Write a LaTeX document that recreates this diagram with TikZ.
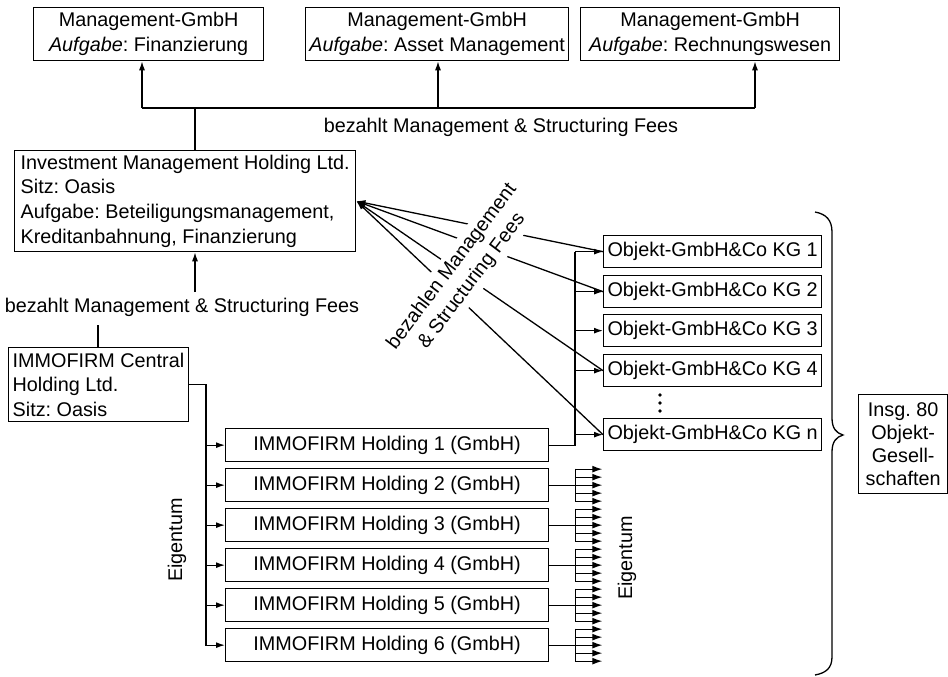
\documentclass[tikz,border=0pt]{standalone}
\usepackage{fontspec}
\setmainfont{Liberation Sans}
\usetikzlibrary{arrows.meta}
\frenchspacing
\begin{document}
\frenchspacing
\begin{tikzpicture}[x=1pt,y=-1pt,
  lbl/.style={font=\fontsize{19.8}{24.6}\selectfont, inner sep=0pt},
  box/.style={lbl, draw, line width=1.3pt, anchor=north west},
  plain/.style={line width=1.3pt},
  conn/.style={line width=1.3pt, -{Latex[length=9pt,width=6pt]}},
  fan/.style={line width=1.3pt, -{Latex[length=10pt,width=7pt]}},
]
\useasboundingbox (0,0) rectangle (948,677);

% top boxes
\node[box, minimum width=230, minimum height=53, align=center] (m1) at (33,7) {Management-GmbH\\\textit{Aufgabe}: Finanzierung};
\node[box, minimum width=263, minimum height=53, align=center] (m2) at (305,7) {Management-GmbH\\\textit{Aufgabe}: Asset Management};
\node[box, minimum width=259, minimum height=53, align=center] (m3) at (580,7) {Management-GmbH\\\textit{Aufgabe}: Rechnungswesen};

% investment holding
\node[box, minimum width=341, minimum height=101, align=left, inner xsep=6pt] (inv) at (14,150) {Investment Management Holding Ltd.\\Sitz: Oasis\\Aufgabe: Beteiligungsmanagement,\\Kreditanbahnung, Finanzierung};

% central holding
\node[box, minimum width=179, minimum height=74, align=left, inner xsep=4pt] (cen) at (8,347) {IMMOFIRM Central\\Holding Ltd.\\Sitz: Oasis};

% holdings
\foreach \i in {1,...,6}
  \node[box, minimum width=323, minimum height=33] (h\i) at (225,{428+40*(\i-1)}) {IMMOFIRM Holding \i\ (GmbH)};

% objekt companies
\foreach \t/\n/\s in {235/1/1,275/2/2,314/3/3,354/4/4,418/5/n}
  \node[box, minimum width=218, minimum height=32] (o\n) at (603,\t) {Objekt-GmbH\&Co KG \s};

% summary box
\node[box, minimum width=89, minimum height=99, align=center, font=\fontsize{19.8}{23.3}\selectfont] (insg) at (858,394) {Insg. 80\\Objekt-\\Gesell-\\schaften};

% labels
\node[lbl] (lt) at (501,127) {bezahlt Management \& Structuring Fees};
\node[lbl] (lb) at (182,307) {bezahlt Management \& Structuring Fees};
\node[lbl, rotate=90] (e1) at (177,540) {Eigentum};
\node[lbl, rotate=90] (e2) at (627,558) {Eigentum};

% top connectors
\coordinate (a0) at (195,108);
\coordinate (a1) at (142,108);
\coordinate (a2) at (438,108);
\coordinate (a3) at (755,108);
\draw[plain] (a1) -- (a3);
\draw[plain] (inv.north -| a0) -- (a0);
\foreach \j in {1,2,3} \draw[conn] (a\j) -- (a\j |- m\j.south);

% investment lower connector
\coordinate (b1) at (195,292);
\draw[conn] (b1) -- (b1 |- inv.south);
\coordinate (b2) at (98,325);
\draw[plain] (b2) -- (b2 |- cen.north);

% central -> holdings
\coordinate (c0) at (206,384);
\draw[conn] (cen.east) -| (c0 |- h6.west) -- (h6.west);
\foreach \i in {1,...,5} \draw[conn] (c0 |- h\i.west) -- (h\i.west);

% holding 1 -> objekt bus
\coordinate (bus) at (575,251);
\draw[plain] (h1.east) -| (bus |- o1.west);
\foreach \i in {1,...,5} \draw[conn] (bus |- o\i.west) -- (o\i.west);

% fee arrows to investment
\foreach \i in {1,2,4,5} \draw[conn] (o\i.west) -- (inv.east);
\node[lbl, fill=white, rotate=53, align=center, inner sep=4pt] (lab) at (462,274) {bezahlen Management\\\& Structuring Fees};

% dots
\foreach \d in {395,403,411} \fill (660,\d) circle (1.9);

% fans for holdings 2..6
\foreach \i in {2,...,6}{
  \path (h\i.east) ++(26,0) coordinate (f\i);
  \draw[plain] (h\i.east) -- (f\i);
  \draw[plain] ([yshift=16.6pt]f\i) -- ([yshift=-16.6pt]f\i);
  \foreach \k in {-16,-8,0,8,16}
    \draw[fan] ([yshift=\k pt]f\i) -- ++(27,0);
}

% brace
\draw[plain] (815,212) .. controls (826,214) and (832,220) .. (832,232)
  -- (832,418) .. controls (832,428) and (836,433) .. (843,435)
  .. controls (836,437) and (832,442) .. (832,452)
  -- (832,657) .. controls (832,668) and (826,673) .. (815,675);
\end{tikzpicture}
\end{document}
